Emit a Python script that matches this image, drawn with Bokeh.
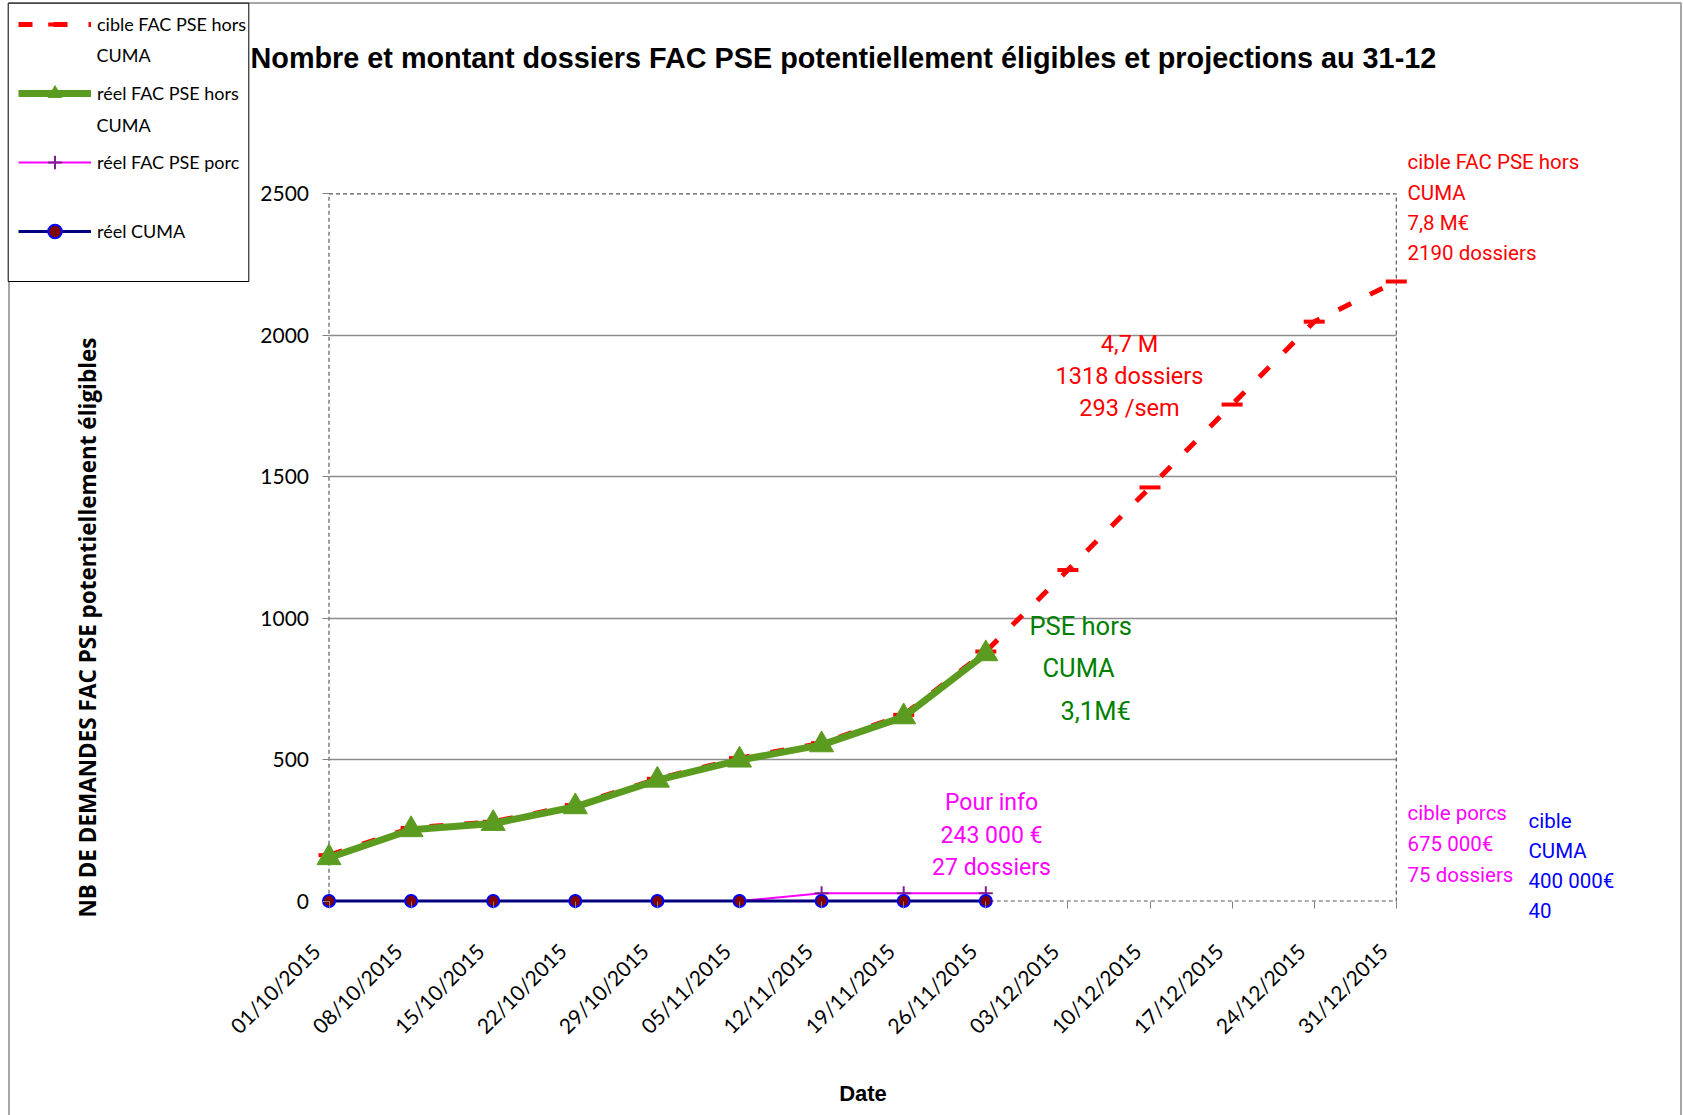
import math
from bokeh.plotting import figure
from bokeh.models import (Range1d, FixedTicker, Label, Legend, LegendItem, BoxAnnotation,
                          LinearAxis, Grid)
from bokeh.embed import file_html
from bokeh.resources import INLINE

# ---------------- data ----------------
dates = ["01/10/2015", "08/10/2015", "15/10/2015", "22/10/2015", "29/10/2015",
         "05/11/2015", "12/11/2015", "19/11/2015", "26/11/2015", "03/12/2015",
         "10/12/2015", "17/12/2015", "24/12/2015", "31/12/2015"]
cible_hors_cuma = [162, 258, 280, 339, 432, 505, 558, 658, 882, 1170, 1462, 1755, 2048, 2190]
reel_hors_cuma = [153, 252, 274, 333, 427, 498, 552, 651, 874]
reel_porc = [0, 0, 0, 0, 0, 0, 27, 27, 27]
reel_cuma = [0, 0, 0, 0, 0, 0, 0, 0, 0]
y_ticks = [0, 500, 1000, 1500, 2000, 2500]
grid_ticks = [500, 1000, 1500, 2000]

x_all = list(range(len(cible_hors_cuma)))
x_reel = list(range(len(reel_hors_cuma)))
XMAX = len(dates) - 1
YMAX = y_ticks[-1]

# ---------------- geometry (page pixels) ----------------
W, H = 1683, 1115
PX0, PX1 = 328.5, 1395.8      # page x of first / last week
PY0, PY1 = 900.5, 193.3       # page y of 0 / 2500
XU = (PX1 - PX0) / XMAX
YU = (PY0 - PY1) / YMAX
LBL_SHIFT = 13 / XU           # date labels sit slightly left of their tick


def xd(px):
    return (px - PX0) / XU


def yd(py):
    return (PY0 - py) / YU


p = figure(width=W, height=H, x_range=Range1d(xd(0), xd(W)), y_range=Range1d(yd(H), yd(0)),
           output_backend="svg", toolbar_location=None, title=None,
           x_axis_location=None, y_axis_location=None,
           min_border=0, min_border_left=0, min_border_right=0, min_border_top=0, min_border_bottom=0,
           background_fill_color="white", border_fill_color="white")
p.outline_line_color = None
p.center = [r for r in p.center if not isinstance(r, Grid)]
p.extra_x_ranges = {"lbl": Range1d(xd(0) + LBL_SHIFT, xd(W) + LBL_SHIFT)}

# outer chart border
p.add_layout(BoxAnnotation(left=xd(8.5), right=xd(1680.5), top=yd(2.5), bottom=yd(1400),
                           fill_alpha=0, line_color="#A6A6A6", line_alpha=1.0, line_width=2,
                           level="underlay"))

# grid + plot-area border
p.add_layout(Grid(dimension=1, ticker=FixedTicker(ticks=grid_ticks), cross_bounds=(0, XMAX),
                  grid_line_color="#8C8C8C", grid_line_width=1.3))
p.add_layout(BoxAnnotation(left=0, right=XMAX, bottom=0, top=YMAX, fill_alpha=0,
                           line_color="#5A5A5A", line_alpha=1.0, line_dash="4 3", line_width=1.2,
                           level="underlay"))

# axes
xaxis = LinearAxis(fixed_location=0, bounds=(0, XMAX), ticker=FixedTicker(ticks=x_all),
                   major_label_text_color=None)
xlabels = LinearAxis(fixed_location=0, x_range_name="lbl", bounds=(0, XMAX + 2 * LBL_SHIFT),
                     ticker=FixedTicker(ticks=x_all),
                     major_label_overrides={i: d for i, d in enumerate(dates)},
                     major_label_orientation=math.pi / 4, major_label_standoff=39,
                     major_tick_line_color=None,
                     axis_label="Date", axis_label_text_font="Liberation Sans",
                     axis_label_text_font_style="bold", axis_label_text_font_size="22px",
                     axis_label_text_color="black", axis_label_standoff=30)
yaxis = LinearAxis(fixed_location=0, bounds=(0, YMAX), ticker=FixedTicker(ticks=y_ticks),
                   major_label_standoff=13)
for ax in (xaxis, xlabels, yaxis):
    ax.axis_line_color = None
    ax.major_tick_in = 0
    ax.major_tick_out = 7
    ax.minor_tick_line_color = None
    ax.major_label_text_font = "Lato"
    ax.major_label_text_font_size = "21px"
xaxis.major_tick_line_color = "#808080"
yaxis.major_tick_line_color = "#808080"
xlabels.major_label_text_color = "black"
yaxis.major_label_text_color = "black"
p.add_layout(xaxis, "below")
p.add_layout(xlabels, "below")
p.add_layout(yaxis, "left")

# ---------------- series ----------------
RED = "#FF0000"
GREEN = "#5B9C20"
r1 = p.line(x_all, cible_hors_cuma, line_color=RED, line_width=5, line_dash="14 21")
r1m = p.scatter(x_all, cible_hors_cuma, marker="dash", size=21, line_color=RED, line_width=4)
r2 = p.line(x_reel, reel_hors_cuma, line_color=GREEN, line_width=7)
r2m = p.scatter(x_reel, reel_hors_cuma, marker="triangle", size=24, fill_color=GREEN, line_color=GREEN)
r3 = p.line(x_reel, reel_porc, line_color="#FF00FF", line_width=2)
r3m = p.scatter(x_reel, reel_porc, marker="cross", size=14, line_color="#7F1F8F", line_width=2)
r4 = p.line(x_reel, reel_cuma, line_color="#000080", line_width=3)
r4m = p.scatter(x_reel, reel_cuma, marker="circle", size=12, fill_color="#800000",
                line_color="#0000FF", line_width=2)

# ---------------- legend ----------------
LEG_FONT = "Lato"
p.add_layout(BoxAnnotation(left=xd(7.7), right=xd(248.3), top=yd(2.7), bottom=yd(281),
                           fill_color="white", fill_alpha=1.0, line_color="black", line_alpha=1.0,
                           line_width=1, level="annotation"))
leg_pad, leg_item_h, leg_spacing = 5, 34, 35
leg_h = 2 * leg_pad + 4 * leg_item_h + 3 * leg_spacing
legend = Legend(items=[
    LegendItem(label="cible FAC PSE hors", renderers=[r1, r1m]),
    LegendItem(label="réel FAC PSE hors", renderers=[r2, r2m]),
    LegendItem(label="réel FAC PSE porc", renderers=[r3, r3m]),
    LegendItem(label="réel CUMA", renderers=[r4, r4m]),
], location=(18, H + 2.7 - leg_h), padding=leg_pad, spacing=leg_spacing, margin=0,
    glyph_width=73, glyph_height=leg_item_h, label_standoff=6, label_width=140,
    label_height=leg_item_h, label_text_font=LEG_FONT, label_text_font_size="18px",
    label_text_color="black", border_line_color=None, background_fill_alpha=0.0)
p.add_layout(legend)
for py in (54, 124):
    p.add_layout(Label(x=xd(96), y=yd(py), text="CUMA", text_align="left", text_baseline="middle",
                       text_font=LEG_FONT, text_font_size="18px", text_color="black"))

# ---------------- texts ----------------
p.add_layout(Label(x=xd(250), y=yd(57),
                   text="Nombre et montant dossiers FAC PSE potentiellement éligibles et projections au 31-12",
                   text_align="left", text_baseline="alphabetic", text_font="Liberation Sans",
                   text_font_style="bold", text_font_size="28.8px", text_color="black"))

p.add_layout(Label(x=xd(87), y=yd(627), text="NB DE DEMANDES FAC PSE potentiellement éligibles",
                   angle=math.pi / 2, text_align="center", text_baseline="middle",
                   text_font="Open Sans", text_font_style="bold", text_font_size="22.5px",
                   text_color="black"))

NOTE_FONT = "Roboto"


def note(lines, px, pys, size, color, align="left"):
    for t, py in zip(lines, pys):
        p.add_layout(Label(x=xd(px), y=yd(py), text=t, text_align=align, text_baseline="middle",
                           text_font=NOTE_FONT, text_font_size=size, text_color=color))


note(["4,7 M", "1318 dossiers", "293 /sem"], 1129, [343.5, 375.7, 407.9], "23.5px", RED, "center")
note(["cible FAC PSE hors", "CUMA", "7,8 M€", "2190 dossiers"], 1407, [161, 192, 222, 252], "20.5px", RED)
note(["PSE hors"], 1029, [625.7], "25.5px", "#008000")
note(["CUMA"], 1042, [667.6], "25.5px", "#008000")
note(["3,1M€"], 1060, [710.5], "25.5px", "#008000")
note(["Pour info", "243 000 €", "27 dossiers"], 991, [801.8, 835, 867.2], "23px", "#FF00FF", "center")
note(["cible porcs", "675 000€", "75 dossiers"], 1407, [812.5, 843.6, 874.7], "20.5px", "#FF00FF")
note(["cible", "CUMA", "400 000€", "40"], 1528, [820, 850, 880, 910], "20.5px", "#0000FF")

open("out.html", "w").write(file_html(p, INLINE))
